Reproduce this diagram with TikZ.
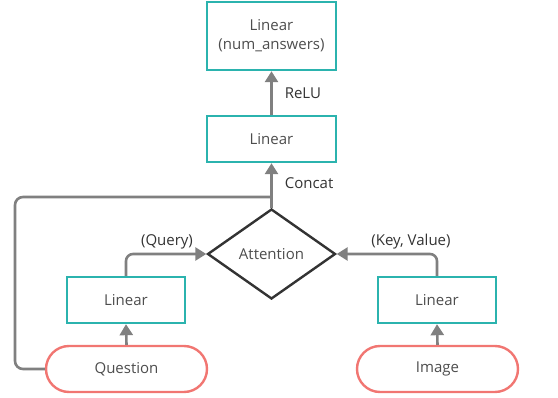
\documentclass[tikz,border=0pt]{standalone}
\usepackage{fontspec}
\setmainfont{Open Sans}
\usetikzlibrary{shapes.geometric,arrows.meta}
\definecolor{teal}{HTML}{2BB3AE}
\definecolor{redc}{HTML}{F17672}
\definecolor{linec}{HTML}{808080}
\definecolor{txt}{HTML}{4D4D4D}
\definecolor{dia}{HTML}{333333}
\tikzset{
  box/.style={draw=teal, line width=2.4pt, rectangle, minimum height=46pt, text=txt, font=\fontsize{15}{19}\selectfont, align=center, inner sep=0pt},
  pill/.style={draw=redc, line width=2.4pt, rectangle, rounded corners=23pt, minimum width=161pt, minimum height=46pt, text=txt, font=\fontsize{15}{19}\selectfont, inner sep=0pt},
  conn/.style={draw=linec, line width=2.6pt},
  arr/.style={conn, -{Triangle[width=13pt,length=11pt]}},
  lbl/.style={text=dia, font=\fontsize{15}{19}\selectfont, inner sep=0pt}
}
\begin{document}
\begin{tikzpicture}[x=1pt,y=-1pt]
\useasboundingbox (0,0) rectangle (558,398);
\node[box, minimum width=129pt, minimum height=68pt] (top) at (271.5,36) {Linear\\(num\_answers)};
\node[box, minimum width=129pt] (lin) at (271.5,139) {Linear};
\node[diamond, draw=dia, line width=2.4pt, minimum width=128pt, minimum height=90pt, inner sep=0pt, text=txt, font=\fontsize{15}{19}\selectfont] (att) at (271.5,254) {Attention};
\node[box, minimum width=118pt] (lq) at (126,300) {Linear};
\node[box, minimum width=118pt] (lk) at (437,300) {Linear};
\node[pill] (q) at (126.5,369) {Question};
\node[pill] (im) at (437.5,369) {Image};
\coordinate (cj) at (271.5,197);
\draw[arr] (lin.north) -- (top.south) node[lbl, midway, right=12pt] {ReLU};
\draw[arr] (att.north) -- (lin.south) node[lbl, pos=0.55, right=12pt] {Concat};
\draw[conn, rounded corners=8pt] (q.west) -- (15,369) -- (15,197) -- (cj);
\draw[arr] (q.north) -- (lq.south);
\draw[arr] (im.north) -- (lk.south);
\draw[arr, rounded corners=7pt] (lq.north) -- (126,254) -- (att.west);
\draw[arr, rounded corners=7pt] (lk.north) -- (437,254) -- (att.east);
\node[lbl] (ql) at (167,242) {(Query)};
\node[lbl] (kl) at (411,242) {(Key, Value)};
\end{tikzpicture}
\end{document}
